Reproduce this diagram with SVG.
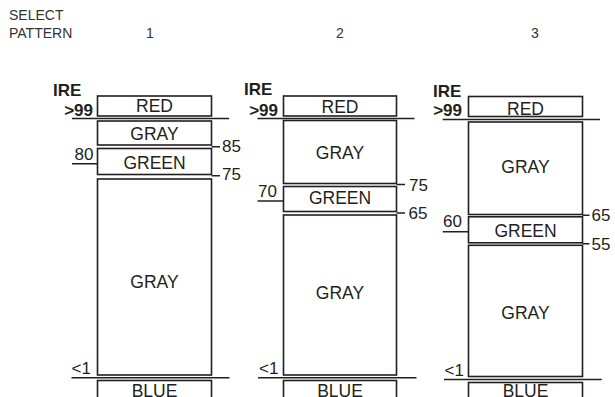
<svg xmlns="http://www.w3.org/2000/svg" width="615" height="397" viewBox="0 0 615 397">
<style>
text{font-family:"Liberation Sans",Arial,sans-serif;fill:#231f20}
.hdr{font-size:14px;fill:#333}
.lbl{font-size:17.5px;text-anchor:middle}
.num{font-size:17px}
.b{font-size:17px;font-weight:bold}
.box{fill:#fff;stroke:#231f20;stroke-width:1.6}
.ln{stroke:#231f20;stroke-width:1.5;fill:none}
</style>
<rect width="615" height="397" fill="#fff"/>
<g id="header">
<text class="hdr" x="9" y="20">SELECT</text>
<text class="hdr" x="9" y="38">PATTERN</text>
<text class="hdr" x="150" y="38" text-anchor="middle">1</text>
<text class="hdr" x="340" y="38" text-anchor="middle">2</text>
<text class="hdr" x="535" y="38" text-anchor="middle">3</text>
</g>
<!-- Pattern 1 -->
<g id="p1-red"><rect class="box" x="97.5" y="96" width="114" height="20"/><text class="lbl" x="154.5" y="112">RED</text></g>
<g id="p1-gray1"><rect class="box" x="97.5" y="121" width="114" height="24"/><text class="lbl" x="154.5" y="139.5">GRAY</text></g>
<g id="p1-green"><rect class="box" x="97.5" y="148.5" width="114" height="26"/><text class="lbl" x="154.5" y="169">GREEN</text></g>
<g id="p1-gray2"><rect class="box" x="97.5" y="179" width="114" height="196"/><text class="lbl" x="154.5" y="288">GRAY</text></g>
<g id="p1-blue"><rect class="box" x="97.5" y="380.5" width="114" height="20"/><text class="lbl" x="154.5" y="396.5">BLUE</text></g>
<!-- Pattern 2 -->
<g id="p2-red"><rect class="box" x="283.5" y="96" width="113" height="20"/><text class="lbl" x="340" y="112.5">RED</text></g>
<g id="p2-gray1"><rect class="box" x="283.5" y="120.5" width="113" height="63"/><text class="lbl" x="340" y="159">GRAY</text></g>
<g id="p2-green"><rect class="box" x="283.5" y="186.5" width="113" height="25"/><text class="lbl" x="340" y="204">GREEN</text></g>
<g id="p2-gray2"><rect class="box" x="283.5" y="215" width="113" height="160"/><text class="lbl" x="340" y="299">GRAY</text></g>
<g id="p2-blue"><rect class="box" x="283.5" y="380.5" width="113" height="20"/><text class="lbl" x="340" y="396.5">BLUE</text></g>
<!-- Pattern 3 -->
<g id="p3-red"><rect class="box" x="468.5" y="96.5" width="114" height="20"/><text class="lbl" x="525.5" y="114.5">RED</text></g>
<g id="p3-gray1"><rect class="box" x="468.5" y="122" width="114" height="92.5"/><text class="lbl" x="525.5" y="173">GRAY</text></g>
<g id="p3-green"><rect class="box" x="468.5" y="216.8" width="114" height="26"/><text class="lbl" x="525.5" y="237">GREEN</text></g>
<g id="p3-gray2"><rect class="box" x="468.5" y="245.3" width="114" height="131.2"/><text class="lbl" x="525.5" y="319">GRAY</text></g>
<g id="p3-blue"><rect class="box" x="468.5" y="382.5" width="114" height="20"/><text class="lbl" x="525.5" y="397">BLUE</text></g>
<g id="connectors">
<!-- pattern 1 scale -->
<path class="ln" d="M72 118.5H229 M72 163.7H97.5 M211.5 146.7H220 M211.5 175.7H220 M71.5 377.7H229.5"/>
<!-- pattern 2 scale -->
<path class="ln" d="M257.5 118.5H414.5 M257.5 201H283.5 M396.5 184.5H405 M396.5 213H405 M258 377.7H416.5"/>
<!-- pattern 3 scale -->
<path class="ln" d="M442.7 119.6H600 M442.7 231.7H468.5 M582.5 215.3H589.5 M582.5 243.8H589.5 M444 379.5H601.7"/>
</g>
<g id="scale-labels">
<text class="b" x="53" y="95.5">IRE</text>
<text class="b" x="93" y="115.5" text-anchor="end">&gt;99</text>
<text class="num" x="93.5" y="160" text-anchor="end">80</text>
<text class="num" x="222" y="152.3">85</text>
<text class="num" x="222" y="180">75</text>
<text class="num" x="71.5" y="374">&lt;1</text>

<text class="b" x="244" y="95">IRE</text>
<text class="b" x="278" y="115.5" text-anchor="end">&gt;99</text>
<text class="num" x="277" y="196.7" text-anchor="end">70</text>
<text class="num" x="409" y="190.7">75</text>
<text class="num" x="408.5" y="219">65</text>
<text class="num" x="259" y="374">&lt;1</text>

<text class="b" x="433" y="96.5">IRE</text>
<text class="b" x="462" y="116" text-anchor="end">&gt;99</text>
<text class="num" x="462" y="226.5" text-anchor="end">60</text>
<text class="num" x="591.5" y="221.3">65</text>
<text class="num" x="591.5" y="249.5">55</text>
<text class="num" x="444.5" y="375.5">&lt;1</text>
</g>
</svg>
